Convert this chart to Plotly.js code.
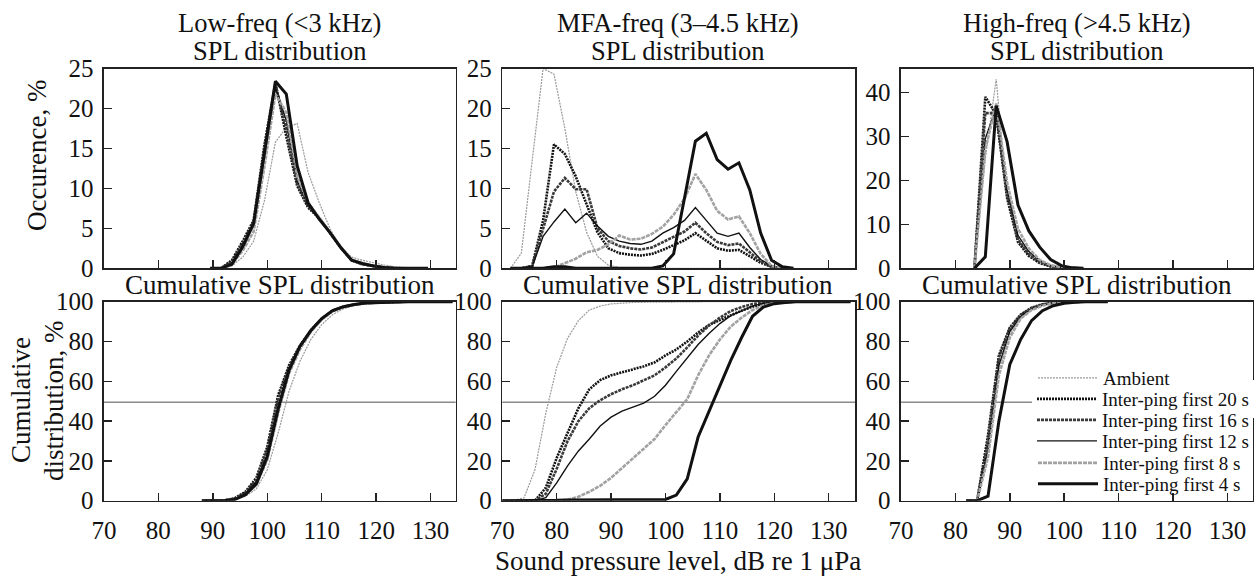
<!DOCTYPE html>
<html>
<head>
<meta charset="utf-8">
<script src="https://cdn.plot.ly/plotly-3.0.1.min.js"></script>
<style>html,body{margin:0;padding:0;background:#fff;}#chart{width:1254px;height:577px;}</style>
</head>
<body>
<div id="chart"></div>
<script>
// ---------- DATA ----------
const seriesNames = ["Ambient", "Inter-ping first 20 s", "Inter-ping first 16 s", "Inter-ping first 12 s", "Inter-ping first 8 s", "Inter-ping first 4 s"];
const tickValsX = [70, 80, 90, 100, 110, 120, 130];

// SPL distribution, Low-freq (<3 kHz)
const lowX   = [89.5, 91.5, 93.5, 95.5, 97.5, 99.5, 101.5, 103.5, 105.5, 107.5, 109.5, 111.5, 113.5, 115.5, 117.5, 119.5, 121.5, 123.5, 125.5, 127.5, 129.5];
const lowAmb = [0, 0, 0.3, 1.4, 3.4, 8.5, 15.8, 17.6, 18.1, 12.0, 8.3, 5.0, 2.6, 1.4, 1.0, 0.7, 0.4, 0.2, 0.1, 0, 0];
const low20  = [0, 0, 1.0, 3.4, 6.0, 15.5, 23.2, 16.5, 10.3, 7.6, 6.3, 4.5, 2.6, 1.0, 0.5, 0.3, 0.1, 0, 0, 0, 0];
const low16  = [0, 0, 0.8, 3.1, 5.8, 15.0, 23.0, 17.5, 10.6, 7.8, 6.3, 4.5, 2.6, 1.0, 0.5, 0.3, 0.1, 0, 0, 0, 0];
const low12  = [0, 0, 0.7, 2.8, 5.4, 14.0, 22.6, 18.5, 11.0, 7.9, 6.3, 4.5, 2.6, 1.0, 0.5, 0.3, 0.1, 0, 0, 0, 0];
const low8   = [0, 0, 0.5, 2.2, 4.6, 12.8, 21.8, 19.5, 11.5, 8.2, 6.4, 4.6, 2.7, 1.1, 0.6, 0.3, 0.1, 0, 0, 0, 0];
const low4   = [0, 0, 0.5, 2.7, 5.6, 14.5, 23.4, 21.8, 12.8, 8.2, 6.2, 4.5, 2.6, 1.0, 0.6, 0.3, 0.1, 0, 0, 0, 0];

// SPL distribution, MFA-freq (3-4.5 kHz)
const midX   = [71.5, 73.5, 75.5, 77.5, 79.5, 81.5, 83.5, 85.5, 87.5, 89.5, 91.5, 93.5, 95.5, 97.5, 99.5, 101.5, 103.5, 105.5, 107.5, 109.5, 111.5, 113.5, 115.5, 117.5, 119.5, 121.5, 123.5];
const midAmb = [0, 1.9, 13.5, 25, 24.3, 17.5, 9.6, 4.5, 1.5, 0.4, 0.1, 0, 0, 0, 0, 0, 0, 0, 0, 0, 0, 0, 0, 0, 0, 0, 0];
const mid20  = [0, 0, 0.3, 6.0, 15.5, 14.3, 11.5, 8.0, 4.5, 2.5, 1.9, 1.7, 1.6, 1.8, 2.3, 2.9, 3.5, 4.4, 3.5, 2.5, 2.2, 2.3, 1.5, 0.7, 0.2, 0, 0];
const mid16  = [0, 0, 0.3, 4.8, 9.6, 11.3, 9.9, 9.9, 5.0, 3.4, 2.8, 2.5, 2.35, 2.6, 3.3, 3.9, 4.6, 5.7, 4.4, 3.3, 2.9, 3.1, 2.0, 0.9, 0.2, 0, 0];
const mid12  = [0, 0, 0.2, 4.0, 5.8, 7.4, 5.7, 6.9, 5.3, 4.0, 3.4, 3.1, 3.0, 3.4, 4.4, 5.1, 6.0, 7.6, 6.0, 4.4, 4.0, 4.4, 2.6, 1.1, 0.3, 0, 0];
const mid8   = [0, 0, 0, 0, 0.1, 0.6, 1.2, 2.0, 2.3, 3.0, 4.1, 3.6, 3.7, 4.3, 5.2, 6.7, 8.7, 11.8, 9.8, 7.2, 6.1, 6.5, 4.4, 1.8, 0.3, 0, 0];
const mid4   = [0, 0, 0, 0, 0.2, 0.2, 0, 0, 0, 0, 0, 0, 0, 0, 0.3, 1.8, 8.8, 15.9, 16.9, 13.6, 12.4, 13.2, 9.8, 4.4, 1.0, 0.2, 0];

// SPL distribution, High-freq (>4.5 kHz)
const highX   = [83.5, 85.5, 87.5, 89.5, 91.5, 93.5, 95.5, 97.5, 99.5, 101.5, 103.5];
const highAmb = [0, 25, 43, 16, 7, 3.3, 1.4, 0.5, 0.1, 0, 0];
const high20  = [0, 39, 35, 16, 6, 2.8, 1.2, 0.4, 0.1, 0, 0];
const high16  = [0, 35.3, 35.3, 17, 6.5, 3.2, 1.4, 0.5, 0.1, 0, 0];
const high12  = [0, 29.5, 36.5, 18, 7.5, 3.8, 1.8, 0.6, 0.2, 0, 0];
const high8   = [0, 27, 37.5, 19.5, 9, 4.5, 1.9, 0.7, 0.2, 0, 0];
const high4   = [0, 2.6, 37, 28.8, 14.4, 8.5, 4.8, 2.0, 0.6, 0.1, 0];

// Cumulative SPL distribution, Low-freq
const cumLowX   = [88, 90, 92, 94, 96, 98, 100, 102, 104, 106, 108, 110, 112, 114, 116, 118, 120, 122, 124, 126, 128, 134];
const cumLowAmb = [0, 0, 0, 0.5, 2.2, 6.0, 15.5, 34, 55, 70, 81, 88.5, 93.5, 96.5, 98, 99, 99.5, 99.7, 99.9, 100, 100, 100];
const cumLow20  = [0, 0, 0.1, 1.2, 4.5, 11.5, 27, 53, 68, 78, 85.5, 91.5, 95.5, 97.5, 98.6, 99.3, 99.6, 99.8, 99.9, 100, 100, 100];
const cumLow16  = [0, 0, 0.1, 1.0, 4.0, 10.5, 25.5, 51, 67, 77.5, 85.3, 91.3, 95.4, 97.4, 98.6, 99.3, 99.6, 99.8, 99.9, 100, 100, 100];
const cumLow12  = [0, 0, 0.1, 0.9, 3.6, 9.5, 23, 47.5, 66, 77, 85, 91.2, 95.3, 97.4, 98.5, 99.2, 99.6, 99.8, 99.9, 100, 100, 100];
const cumLow8   = [0, 0, 0, 0.7, 3.0, 8.0, 20.5, 44, 64, 76, 84.8, 91, 95.2, 97.3, 98.5, 99.2, 99.6, 99.8, 99.9, 100, 100, 100];
const cumLow4   = [0, 0, 0, 0.6, 3.0, 8.5, 22, 46, 65.5, 77.5, 85.5, 91.5, 95.5, 97.5, 98.6, 99.3, 99.6, 99.8, 99.9, 100, 100, 100];

// Cumulative SPL distribution, MFA-freq
const cumMidX   = [70, 72, 74, 76, 78, 80, 82, 84, 86, 88, 90, 92, 94, 96, 98, 100, 102, 104, 106, 108, 110, 112, 114, 116, 118, 120, 122, 124, 134];
const cumMidAmb = [0, 0, 1.5, 15.5, 44, 67, 81.6, 90.5, 95.8, 97.8, 98.9, 99.4, 99.6, 99.7, 99.8, 99.9, 100, 100, 100, 100, 100, 100, 100, 100, 100, 100, 100, 100, 100];
const cumMid20  = [0, 0, 0, 0, 6.5, 21.5, 34, 46.5, 56, 60.6, 63, 64.5, 66, 67.5, 69.5, 73, 76, 80, 84.5, 88.3, 90.8, 93.3, 95.5, 97.5, 99, 99.6, 99.9, 100, 100];
const cumMid16  = [0, 0, 0, 0, 3.5, 16, 30, 40, 46.5, 50.5, 53.5, 56, 58, 60.3, 63, 67, 71.5, 77, 83, 88, 92, 95.3, 97.3, 98.8, 99.5, 99.8, 100, 100, 100];
const cumMid12  = [0, 0, 0, 0, 1.5, 9, 17.5, 25, 31, 37.5, 42, 45, 47, 49, 52.5, 58, 65, 72, 78.5, 84, 89, 93, 95.5, 97.8, 99.2, 99.7, 100, 100, 100];
const cumMid8   = [0, 0, 0, 0, 0, 0, 0.5, 2.0, 4.5, 7.5, 11.5, 16.5, 21.5, 26, 31, 38, 44.5, 51, 63, 73, 81, 87.5, 92, 95.8, 98.2, 99.3, 99.8, 100, 100];
const cumMid4   = [0, 0, 0, 0, 0, 0.2, 0.4, 0.4, 0.4, 0.4, 0.4, 0.4, 0.4, 0.4, 0.4, 0.6, 2.8, 11, 32, 45, 58, 70.5, 82, 92.7, 97.3, 99, 99.6, 100, 100];

// Cumulative SPL distribution, High-freq
const cumHighX   = [82, 84, 86, 88, 90, 92, 94, 96, 98, 100, 102, 104, 108];
const cumHighAmb = [0, 0, 24, 66, 83.5, 92, 96.2, 98.3, 99.3, 99.7, 99.9, 100, 100];
const cumHigh20  = [0, 0, 33, 73, 87, 93.5, 97, 98.7, 99.4, 99.8, 99.9, 100, 100];
const cumHigh16  = [0, 0, 30, 72, 86.5, 93.3, 96.8, 98.6, 99.4, 99.8, 99.9, 100, 100];
const cumHigh12  = [0, 0, 26, 68, 85, 92.5, 96.3, 98.3, 99.3, 99.7, 99.9, 100, 100];
const cumHigh8   = [0, 0, 22, 63, 82, 91.5, 95.8, 98, 99.2, 99.7, 99.9, 100, 100];
const cumHigh4   = [0, 0, 2.3, 40, 68.5, 81, 90.5, 95.5, 98, 99.2, 99.7, 100, 100];

const medianLevel = 49.5;

// ---------- STYLE ----------
const FONT = "Liberation Serif, 'DejaVu Serif', 'Times New Roman', serif";
const lineStyles = [
  {color: '#9a9a9a', width: 1.2, dash: '2px,1px'},
  {color: '#111111', width: 2.6, dash: '2px,1px'},
  {color: '#3a3a3a', width: 2.6, dash: '3px,1px'},
  {color: '#111111', width: 1.4},
  {color: '#a2a2a2', width: 2.6, dash: '4px,1px'},
  {color: '#111111', width: 3.0}
];

const panels = [
  {x: lowX,  ys: [lowAmb, low20, low16, low12, low8, low4], xa: 'x',  ya: 'y'},
  {x: midX,  ys: [midAmb, mid20, mid16, mid12, mid8, mid4], xa: 'x2', ya: 'y2'},
  {x: highX, ys: [highAmb, high20, high16, high12, high8, high4], xa: 'x3', ya: 'y3'},
  {x: cumLowX,  ys: [cumLowAmb, cumLow20, cumLow16, cumLow12, cumLow8, cumLow4], xa: 'x4', ya: 'y4'},
  {x: cumMidX,  ys: [cumMidAmb, cumMid20, cumMid16, cumMid12, cumMid8, cumMid4], xa: 'x5', ya: 'y5'},
  {x: cumHighX, ys: [cumHighAmb, cumHigh20, cumHigh16, cumHigh12, cumHigh8, cumHigh4], xa: 'x6', ya: 'y6'}
];

// one single-entry legend per series so that the rows sit as close as in the reference;
// the "20 s" row is drawn first (white box that hides the 50 % line), the others on top of it
const legendIds  = ['legend2', 'legend', 'legend3', 'legend4', 'legend5', 'legend6'];
const legendRowsY = [378, 399, 420, 441, 463, 484];

const traces = [];
panels.forEach((p, pi) => {
  p.ys.forEach((y, si) => {
    traces.push({
      type: 'scatter', mode: 'lines', x: p.x, y: y,
      xaxis: p.xa, yaxis: p.ya,
      name: seriesNames[si],
      legend: legendIds[si],
      line: Object.assign({}, lineStyles[si]),
      showlegend: pi === 5,
      hoverinfo: 'skip', cliponaxis: true
    });
  });
});

const W = 1254, H = 577;
const px = v => v / W;
const py = v => 1 - v / H;

const colDom = [[px(104), px(456)], [px(502.7), px(856)], [px(901.7), 1]];
const colRange = [[70, 134.6], [70, 134.9], [70, 134.7]];
const topDom = [py(268.3), py(68.5)];
const botDom = [py(500.7), py(301.7)];

function xAxis(col, bottom, anchor) {
  return {
    domain: colDom[col], range: colRange[col], anchor: anchor,
    showline: true, mirror: true, linecolor: '#222', linewidth: 1.5,
    ticks: 'inside', ticklen: 8, tickwidth: 1.5, tickcolor: '#222',
    tickvals: tickValsX, showticklabels: bottom,
    showgrid: false, zeroline: false, fixedrange: true,
    tickfont: {family: FONT, size: 25, color: '#111'},
    ticklabelstandoff: 7
  };
}
function yAxis(col, bottom, range, dtick, anchor) {
  return {
    domain: bottom ? botDom : topDom, range: range, dtick: dtick, tick0: 0, anchor: anchor,
    showline: true, mirror: true, linecolor: '#222', linewidth: 1.5,
    ticks: 'inside', ticklen: 8, tickwidth: 1.5, tickcolor: '#222',
    showgrid: false, zeroline: false, fixedrange: true,
    tickfont: {family: FONT, size: 25, color: '#111'},
    ticklabelstandoff: 4
  };
}

function ann(text, x, y, size, angle) {
  return {text: text, x: px(x), y: py(y), xref: 'paper', yref: 'paper',
          xanchor: 'center', yanchor: 'middle', showarrow: false, borderpad: 0,
          textangle: angle || 0, font: {family: FONT, size: size, color: '#111'}};
}

const colCenters = [280, 679, 1078];
const colTitles = ['Low-freq (&lt;3 kHz)', 'MFA-freq (3–4.5 kHz)', 'High-freq (&gt;4.5 kHz)'];
const annotations = [];
colTitles.forEach((t, i) => {
  annotations.push(ann(t, colCenters[i], 23, 26.5));
  annotations.push(ann('SPL distribution', colCenters[i], 51, 26.5));
  annotations.push(ann('Cumulative SPL distribution', colCenters[i], 285, 27));
});
annotations.push(ann('Occurence, %', 37, 155, 27, -90));
annotations.push(ann('Cumulative', 21, 400, 27, -90));
annotations.push(ann('distribution, %', 54, 400, 27, -90));
annotations.push(ann('Sound pressure level, dB re 1 μPa', 679, 561, 27));

const shapes = ['x4', 'x5', 'x6'].map((xa, i) => ({
  type: 'line', xref: xa + ' domain', yref: 'y' + (4 + i),
  x0: 0, x1: 1, y0: medianLevel, y1: medianLevel,
  line: {color: '#8a8a8a', width: 1.5}, layer: 'below'
}));

const layout = {
  width: W, height: H,
  margin: {l: 0, r: 0, t: 0, b: 0, pad: 0},
  paper_bgcolor: '#fff', plot_bgcolor: '#fff',
  font: {family: FONT, color: '#111'},
  showlegend: true,
  xaxis:  xAxis(0, false, 'y'),
  xaxis2: xAxis(1, false, 'y2'),
  xaxis3: xAxis(2, false, 'y3'),
  xaxis4: xAxis(0, true, 'y4'),
  xaxis5: xAxis(1, true, 'y5'),
  xaxis6: xAxis(2, true, 'y6'),
  yaxis:  yAxis(0, false, [0, 25], 5, 'x'),
  yaxis2: yAxis(1, false, [0, 25], 5, 'x2'),
  yaxis3: yAxis(2, false, [0, 45.45], 10, 'x3'),
  yaxis4: yAxis(0, true, [0, 100], 20, 'x4'),
  yaxis5: yAxis(1, true, [0, 100], 20, 'x5'),
  yaxis6: yAxis(2, true, [0, 100], 20, 'x6'),
  annotations: annotations,
  shapes: shapes
};
seriesNames.forEach((n, i) => {
  layout[legendIds[i]] = {
    x: px(1033), y: py(legendRowsY[i]), xanchor: 'left', yanchor: 'middle',
    bgcolor: i === 1 ? '#fff' : 'rgba(0,0,0,0)', borderwidth: 0,
    itemwidth: 60,
    font: {family: FONT, size: 19, color: '#111'}
  };
});

Plotly.newPlot('chart', traces, layout, {staticPlot: true, displayModeBar: false});
</script>
</body>
</html>
